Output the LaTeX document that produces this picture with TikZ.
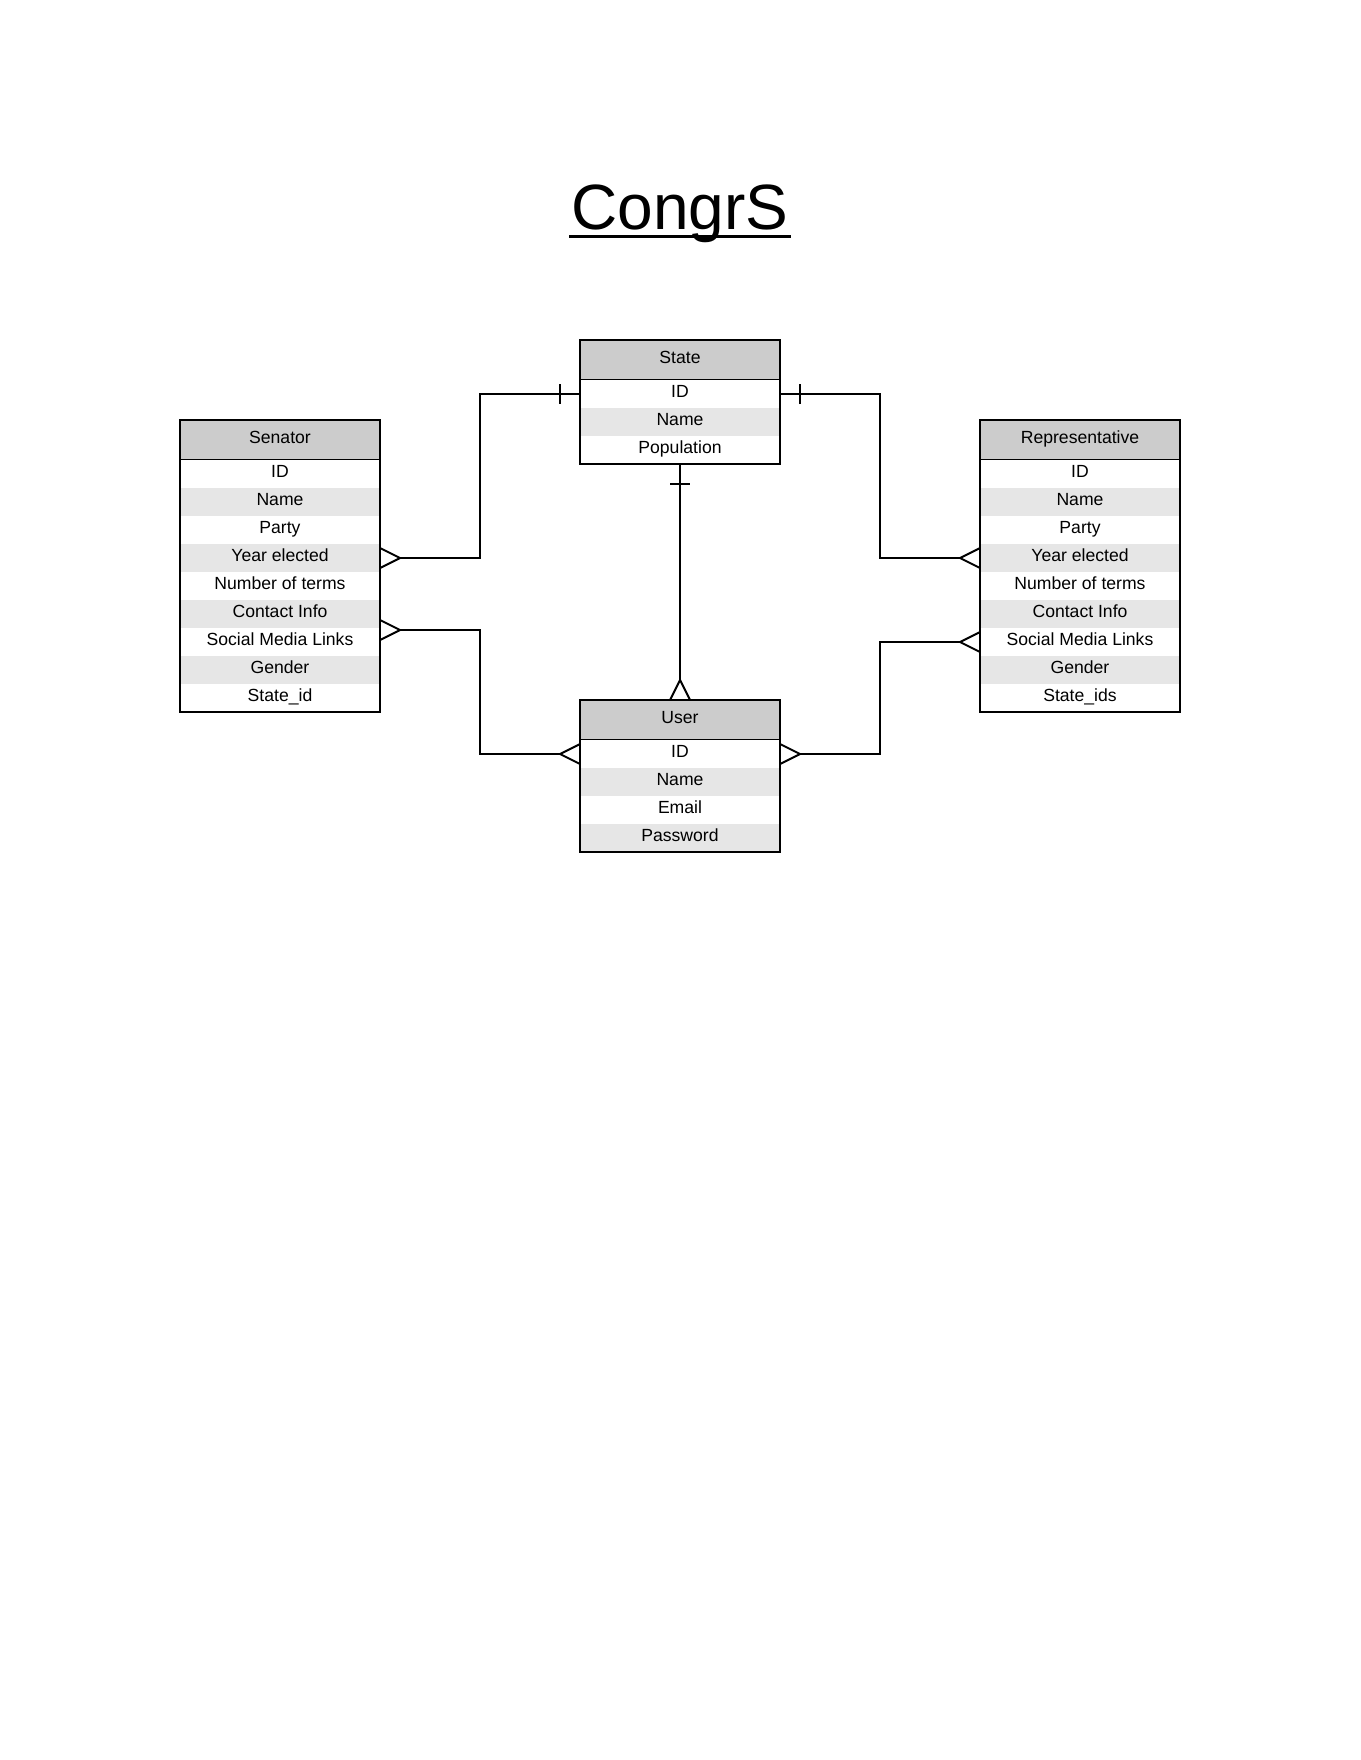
\documentclass[tikz,border=0pt]{standalone}
\usepackage{fontspec}
\setmainfont{Liberation Sans}
\usetikzlibrary{arrows.meta}
\definecolor{HeadGray}{RGB}{204,204,204}
\definecolor{RowGray}{RGB}{230,230,230}

% crow's foot (many) and single bar (one) ends
\pgfdeclarearrow{
  name = crow,
  setup code = {
    \pgfarrowssettipend{0pt}
    \pgfarrowssetlineend{-10pt}
    \pgfarrowssetbackend{-10pt}
    \pgfarrowsupperhullpoint{0pt}{5pt}
    \pgfarrowsupperhullpoint{-10pt}{0pt}
  },
  drawing code = {
    \pgfsetroundjoin
    \pgfpathmoveto{\pgfpoint{0pt}{5pt}}
    \pgfpathlineto{\pgfpoint{-10pt}{0pt}}
    \pgfpathlineto{\pgfpoint{0pt}{-5pt}}
    \pgfusepathqstroke
  }
}
\pgfdeclarearrow{
  name = onebar,
  setup code = {
    \pgfarrowssettipend{0pt}
    \pgfarrowssetlineend{0pt}
    \pgfarrowssetbackend{-10pt}
    \pgfarrowsupperhullpoint{0pt}{5pt}
    \pgfarrowsupperhullpoint{-10pt}{5pt}
  },
  drawing code = {
    \pgfpathmoveto{\pgfpoint{-10pt}{5pt}}
    \pgfpathlineto{\pgfpoint{-10pt}{-5pt}}
    \pgfusepathqstroke
  }
}

\begin{document}
\begin{tikzpicture}[x=0.5pt,y=-0.5pt,
  hdr/.style={draw=black,line width=1.2pt,fill=HeadGray,minimum width=100pt,
              minimum height=20pt,inner sep=0pt,outer sep=0pt,
              text height=6.5pt,text depth=3.5pt,
              font=\fontsize{8.8}{10}\selectfont},
  row/.style={minimum width=100pt,minimum height=14pt,inner sep=0pt,
              outer sep=0pt,text height=6.5pt,text depth=3.5pt,
              font=\fontsize{8.8}{10}\selectfont},
  box/.style={draw=black,line width=1.2pt},
  rel/.style={line width=1pt},
]
\useasboundingbox (0,0) rectangle (1360,1760);

% Title
\node[font=\fontsize{32}{38}\selectfont,inner sep=0pt,anchor=base] (title) at (680,230) {CongrS};
\draw[line width=1.5pt] ([xshift=-1pt,yshift=-3.5pt]title.base west) -- ([xshift=1pt,yshift=-3.5pt]title.base east);

% Senator --- left table
\node[hdr] (sen) at (280,440) {Senator};
\foreach \attr [count=\i] in {ID,Name,Party,Year elected,Number of terms,
    Contact Info,Social Media Links,Gender,State\_id}{
  \ifodd\i \def\rowfill{white}\else\def\rowfill{RowGray}\fi
  \node[row,fill=\rowfill] (sen-\i) at (280,{446+28*\i}) {\attr};
}
\draw[box] (sen.north west) rectangle (sen-9.south east);

% State --- top table
\node[hdr] (state) at (680,360) {State};
\foreach \attr [count=\i] in {ID,Name,Population}{
  \ifodd\i \def\rowfill{white}\else\def\rowfill{RowGray}\fi
  \node[row,fill=\rowfill] (state-\i) at (680,{366+28*\i}) {\attr};
}
\draw[box] (state.north west) rectangle (state-3.south east);

% User --- bottom table
\node[hdr] (user) at (680,720) {User};
\foreach \attr [count=\i] in {ID,Name,Email,Password}{
  \ifodd\i \def\rowfill{white}\else\def\rowfill{RowGray}\fi
  \node[row,fill=\rowfill] (user-\i) at (680,{726+28*\i}) {\attr};
}
\draw[box] (user.north west) rectangle (user-4.south east);

% Representative --- right table
\node[hdr] (rep) at (1080,440) {Representative};
\foreach \attr [count=\i] in {ID,Name,Party,Year elected,Number of terms,
    Contact Info,Social Media Links,Gender,State\_ids}{
  \ifodd\i \def\rowfill{white}\else\def\rowfill{RowGray}\fi
  \node[row,fill=\rowfill] (rep-\i) at (1080,{446+28*\i}) {\attr};
}
\draw[box] (rep.north west) rectangle (rep-9.south east);

% Relations
\draw[rel,crow-onebar] (sen-4.east) -- ++(100,0) |- (state-1.west);
\draw[rel,crow-crow] ([yshift=-1pt]sen-7.north east) -- ++(100,0) |- (user-1.west);
\draw[rel,crow-onebar] (rep-4.west) -- ++(-100,0) |- (state-1.east);
\draw[rel,crow-crow] (rep-7.west) -- ++(-100,0) |- (user-1.east);
\draw[rel,onebar-crow] (state-3.south) -- (user.north);
\end{tikzpicture}
\end{document}
